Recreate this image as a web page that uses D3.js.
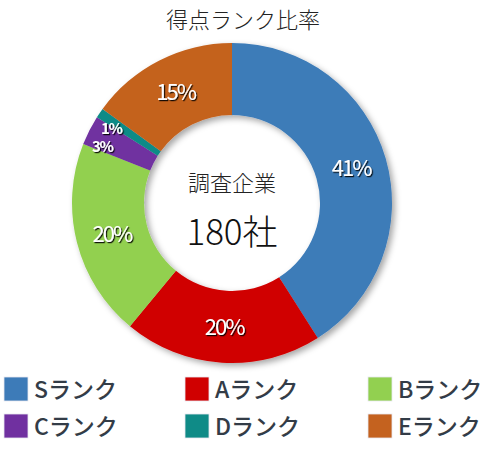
<html>
<head>
  <meta charset="utf-8">
  <script src="https://d3js.org/d3.v7.min.js"></script>
  <style>
    body { margin: 0; background: #fff; }
  </style>
</head>
<body>
  <svg id="chart" width="485" height="461"></svg>
  <script>
    const ranks = ["S", "A", "B", "C", "D", "E"];
    const shares = [41, 20, 20, 3, 1, 15];
    const rankColors = ["#3d7bb8", "#d00000", "#92d050", "#7030a0", "#0f8b87", "#c4621f"];
    const title = "得点ランク比率";
    const centerLines = ["調査企業", "180社"];

    const svg = d3.select("svg#chart");
    const cx = 232, cy = 203;
    const outerR = 160, innerR = 88;

    const data = ranks.map((r, i) => ({ rank: r, value: shares[i], color: rankColors[i] }));

    const defs = svg.append("defs");
    const shadow = defs.append("filter").attr("id", "shadow")
      .attr("x", "-20%").attr("y", "-20%").attr("width", "140%").attr("height", "140%");
    shadow.append("feDropShadow")
      .attr("dx", 3).attr("dy", 3).attr("stdDeviation", 3)
      .attr("flood-color", "#000").attr("flood-opacity", 0.35);

    const textShadow = defs.append("filter").attr("id", "textShadow")
      .attr("x", "-20%").attr("y", "-20%").attr("width", "140%").attr("height", "140%");
    textShadow.append("feDropShadow")
      .attr("dx", 1.2).attr("dy", 1.2).attr("stdDeviation", 0.4)
      .attr("flood-color", "#000").attr("flood-opacity", 0.9);

    svg.append("text")
      .attr("x", 243).attr("y", 28)
      .attr("text-anchor", "middle")
      .attr("font-family", "Noto Sans CJK JP")
      .attr("font-weight", 300)
      .attr("font-size", 22)
      .attr("fill", "#222")
      .text(title);

    const pie = d3.pie().value(d => d.value).sort(null);
    const arc = d3.arc().innerRadius(innerR).outerRadius(outerR);
    const arcs = pie(data);

    const g = svg.append("g").attr("transform", `translate(${cx},${cy})`);

    g.append("g").attr("filter", "url(#shadow)")
      .selectAll("path")
      .data(arcs)
      .join("path")
      .attr("d", arc)
      .attr("fill", d => d.data.color);

    // small slices: label pushed further out and nudged, then spread apart vertically
    arcs.forEach(d => {
      const small = d.data.value < 5;
      const r = small ? 140 : (innerR + outerR) / 2;
      d.small = small;
      d.pos = d3.arc().innerRadius(r).outerRadius(r).centroid(d);
      if (small) { d.pos[0] -= 5; d.pos[1] += 4; }
    });
    const smalls = arcs.filter(d => d.small).sort((a, b) => a.pos[1] - b.pos[1]);
    for (let i = 1; i < smalls.length; i++) {
      const gap = smalls[i].pos[1] - smalls[i - 1].pos[1];
      if (gap < 18) smalls[i].pos[1] += 18 - gap;
    }

    g.append("g")
      .selectAll("text")
      .data(arcs)
      .join("text")
      .attr("transform", d => `translate(${d.pos})`)
      .attr("text-anchor", "middle")
      .attr("dy", "0.36em")
      .attr("font-family", "Noto Sans CJK JP")
      .attr("font-weight", d => d.small ? 700 : 400)
      .attr("font-size", d => d.small ? 15 : 22)
      .attr("letter-spacing", d => d.small ? -1.5 : -2)
      .attr("fill", "#fff")
      .attr("filter", "url(#textShadow)")
      .text(d => d.data.value + "%");

    g.append("text")
      .attr("y", -12)
      .attr("text-anchor", "middle")
      .attr("font-family", "Noto Sans CJK JP")
      .attr("font-weight", 300)
      .attr("font-size", 22)
      .attr("fill", "#222")
      .text(centerLines[0]);

    g.append("text")
      .attr("y", 42)
      .attr("text-anchor", "middle")
      .attr("font-family", "Noto Sans CJK JP")
      .attr("font-weight", 300)
      .attr("font-size", 35)
      .attr("fill", "#111")
      .text(centerLines[1]);

    // legend, 3 per row
    const colX = d3.scaleOrdinal().domain([0, 1, 2]).range([4, 185, 368]);
    const rowY = d3.scaleOrdinal().domain([0, 1]).range([377, 414]);

    const legend = svg.append("g")
      .selectAll("g")
      .data(data)
      .join("g")
      .attr("transform", (d, i) => `translate(${colX(i % 3)},${rowY(Math.floor(i / 3))})`);

    legend.append("rect")
      .attr("width", 24).attr("height", 24)
      .attr("fill", d => d.color)
      .attr("stroke", "#e8e8f0").attr("stroke-width", 0.8);

    legend.append("text")
      .attr("x", 30).attr("y", 21)
      .attr("font-family", "Noto Sans CJK JP")
      .attr("font-weight", 500)
      .attr("font-size", 23)
      .attr("fill", "#333c47")
      .text(d => d.rank + "ランク");
  </script>
</body>
</html>
